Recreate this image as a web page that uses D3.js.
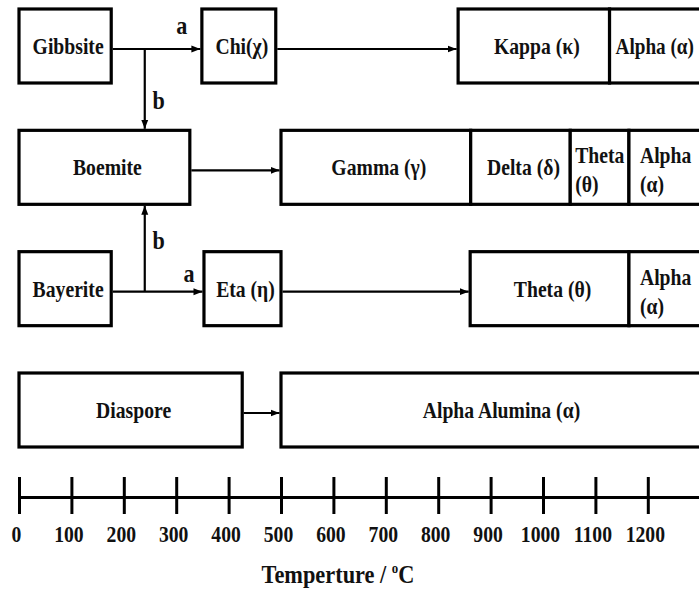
<!DOCTYPE html>
<html><head><meta charset="utf-8">
<script src="https://cdn.jsdelivr.net/npm/d3@7"></script>
<style>
body{margin:0;background:#fff}
svg text{font-family:"Liberation Serif","DejaVu Serif","Times New Roman",Times,serif !important;font-weight:bold;fill:#111}
</style>
</head><body><svg id="c" width="699" height="592"></svg>
<script>
// ---- data ----
const tickTemps = [0,100,200,300,400,500,600,700,800,900,1000,1100,1200];
const rowNames = ["gibbsite","boehmite","bayerite","diaspore"];
const gibbsitePath = [
  {label:["Gibbsite"], from:0, to:176},
  {label:["Chi(χ)"], from:349, to:490},
  {label:["Kappa (κ)"], from:838, to:1127},
  {label:["Alpha (α)"], from:1127, to:1340}
];
const boehmitePath = [
  {label:["Boemite"], from:0, to:326},
  {label:["Gamma (γ)"], from:500, to:862},
  {label:["Delta (δ)"], from:862, to:1052},
  {label:["Theta","(θ)"], from:1052, to:1164},
  {label:["Alpha","(α)"], from:1164, to:1340}
];
const bayeritePath = [
  {label:["Bayerite"], from:0, to:176},
  {label:["Eta (η)"], from:353, to:500},
  {label:["Theta (θ)"], from:861, to:1164},
  {label:["Alpha","(α)"], from:1164, to:1340}
];
const diasporePath = [
  {label:["Diaspore"], from:0, to:426},
  {label:["Alpha Alumina (α)"], from:500, to:1330}
];
const paths = [gibbsitePath, boehmitePath, bayeritePath, diasporePath];
const branchTemp = 240;      // split point of routes a / b
const axisTitle = "Temperture / ";

// ---- drawing ----
const svg = d3.select("#c");
const x = d3.scaleLinear().domain([0,1300]).range([19,700.2]);
const y = d3.scalePoint().domain(rowNames).range([46,410]);
const boxH = 74, FS = 24, SX = 0.82, lineOff = 3;

svg.append("defs").append("marker")
  .attr("id","ah").attr("markerUnits","userSpaceOnUse")
  .attr("markerWidth",10).attr("markerHeight",10)
  .attr("viewBox","0 -5 10 10").attr("refX",9).attr("refY",0)
  .attr("orient","auto")
  .append("path").attr("d","M0,-3.5L9,0L0,3.5Z").attr("fill","#000");

function txt(str, px, py, anchor, fs, sx){
  return svg.append("text")
    .attr("font-family","Liberation Serif, DejaVu Serif, serif")
    .attr("transform",`translate(${px},${py}) scale(${sx},1)`)
    .attr("text-anchor",anchor).attr("font-size",fs).text(str);
}

paths.forEach((phases,i)=>{
  const cy = y(rowNames[i]);
  phases.forEach((p,j)=>{
    svg.append("rect")
      .attr("x",x(p.from)).attr("y",cy-boxH/2)
      .attr("width",x(p.to)-x(p.from)).attr("height",boxH)
      .attr("fill","#fff").attr("stroke","#000").attr("stroke-width",3.2);
    const prev = phases[j-1];
    const joined = prev && prev.to === p.from;
    const last = j === phases.length-1;
    const multi = p.label.length > 1;
    const left = joined && (last || multi);
    const pad = !last ? 5 : (multi ? 11 : 6);
    const px = left ? x(p.from)+pad : (x(p.from)+x(p.to))/2 + 3;
    const anchor = left ? "start" : "middle";
    if(!multi){
      txt(p.label[0], px, cy+8, anchor, FS, left ? 0.8 : SX);
    } else {
      txt(p.label[0], px, cy-4, anchor, FS, SX);
      txt(p.label[1], px, cy+25, anchor, FS, SX);
    }
    if(prev && prev.to < p.from){
      svg.append("line")
        .attr("x1",x(prev.to)+1.5).attr("x2",x(p.from)-1.5)
        .attr("y1",cy+lineOff).attr("y2",cy+lineOff)
        .attr("stroke","#000").attr("stroke-width",2.2)
        .attr("marker-end","url(#ah)");
    }
  });
});

// branch b arrows into Boehmite
const bx = x(branchTemp);
const yB = y("boehmite");
svg.append("line").attr("x1",bx).attr("x2",bx)
  .attr("y1",y("gibbsite")+lineOff).attr("y2",yB-boxH/2-1.5)
  .attr("stroke","#000").attr("stroke-width",2.2).attr("marker-end","url(#ah)");
svg.append("line").attr("x1",bx).attr("x2",bx)
  .attr("y1",y("bayerite")+lineOff).attr("y2",yB+boxH/2+1.5)
  .attr("stroke","#000").attr("stroke-width",2.2).attr("marker-end","url(#ah)");

// route labels
txt("a", x(gibbsitePath[1].from)-20, y("gibbsite")-12, "middle", 26, 0.85);
txt("b", bx+14, y("gibbsite")+63, "middle", 26, 0.85);
txt("a", x(bayeritePath[1].from)-15, y("bayerite")-7, "middle", 26, 0.85);
txt("b", bx+14, y("bayerite")-40, "middle", 26, 0.85);

// temperature axis
const ax = svg.append("g").attr("transform","translate(0,497)")
  .call(d3.axisBottom(x).tickValues(tickTemps).tickSizeOuter(0).tickFormat(d3.format("d")));
ax.attr("font-family","Liberation Serif, DejaVu Serif, serif").attr("font-size",null);
ax.select(".domain").attr("stroke","#000").attr("stroke-width",3);
ax.selectAll(".tick line").attr("y1",-20).attr("y2",17).attr("stroke","#000").attr("stroke-width",3);
ax.selectAll(".tick text").attr("y",0).attr("dy",null)
  .attr("transform",`translate(-3,45) scale(${SX},1)`).attr("font-size",FS);

const t = svg.append("text").attr("transform","translate(338,583) scale(0.86,1)")
  .attr("font-family","Liberation Serif, DejaVu Serif, serif")
  .attr("text-anchor","middle").attr("font-size",26);
t.append("tspan").text(axisTitle);
t.append("tspan").attr("dy",-10).attr("font-size",15).text("o");
t.append("tspan").attr("dy",10).text("C");
</script>
</body></html>
